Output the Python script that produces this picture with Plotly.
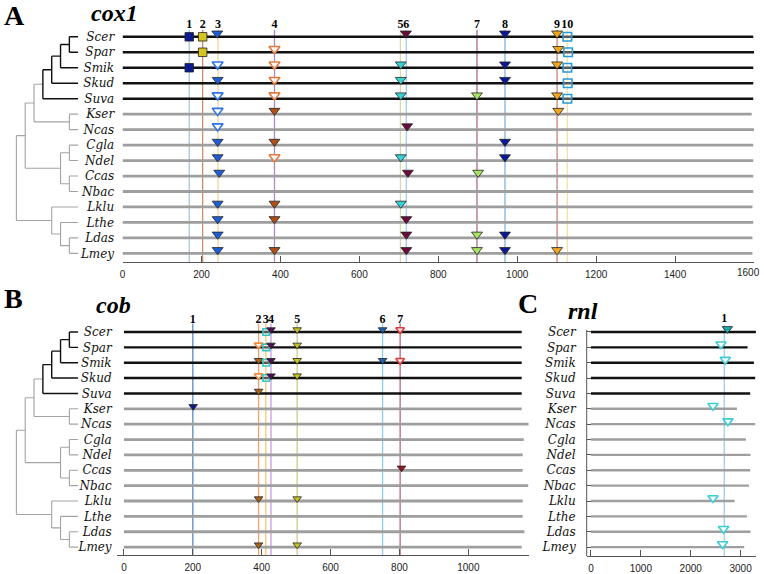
import plotly.graph_objects as go

W, H = 764, 574

# ---------------- data ----------------
species = ["Scer", "Spar", "Smik", "Skud", "Suva", "Kser", "Ncas", "Cgla",
           "Ndel", "Ccas", "Nbac", "Lklu", "Lthe", "Ldas", "Lmey"]
saccharomyces = ["Scer", "Spar", "Smik", "Skud", "Suva"]
tree = ((((((("Scer", "Spar"), "Smik"), "Skud"), "Suva"), ("Kser", "Ncas")),
         (("Cgla", "Ndel"), ("Ccas", "Nbac"))),
        ("Lklu", ("Lthe", ("Ldas", "Lmey"))))

# cox1
cox1_ticks = [0, 200, 400, 600, 800, 1000, 1200, 1400, 1600]
cox1_len = [1598, 1600, 1598, 1598, 1598, 1594, 1600, 1598, 1598, 1598, 1598, 1596, 1598, 1596, 1596]
cox1_site_pos = [169, 203, 242, 385, 704, 719, 898, 969, 1101, 1127]
cox1_site_line = ["#a3c8e4", "#cf8c6e", "#f4d496", "#a88cc4", "#d8dca4",
                  "#a6cfe4", "#ab6f80", "#7fb6de", "#c88474", "#f7e2a6"]
cox1_site_symbol = ["square", "square", "triangle-down", "triangle-down", "triangle-down",
                    "triangle-down", "triangle-down", "triangle-down", "triangle-down", "square"]
cox1_fill = ["#0b1a8f", "#d4c61c", "#1d5fd8", "#b34d16", "#33d3d6",
             "#6b0b3b", "#a6e263", "#0b1898", "#f2a61e", None]
cox1_open = [None, None, "#2f74e6", "#e27a42", "#33d3d6", None, None, None, None, "#2b9bd3"]
cox1_marks = [
    (1, "Scer", 169, "f"), (1, "Smik", 169, "f"),
    (2, "Scer", 203, "f"), (2, "Spar", 203, "f"),
    (3, "Scer", 240, "f"), (3, "Smik", 241, "o"), (3, "Skud", 241, "f"), (3, "Suva", 241, "o"),
    (3, "Kser", 241, "o"), (3, "Ncas", 241, "o"), (3, "Cgla", 241, "f"), (3, "Ndel", 241, "f"),
    (3, "Ccas", 245, "f"), (3, "Lklu", 241, "f"), (3, "Lthe", 241, "f"), (3, "Ldas", 241, "f"),
    (3, "Lmey", 241, "f"),
    (4, "Spar", 385, "o"), (4, "Smik", 385, "o"), (4, "Skud", 385, "o"), (4, "Suva", 385, "o"),
    (4, "Kser", 385, "f"), (4, "Cgla", 385, "f"), (4, "Ndel", 385, "o"), (4, "Lklu", 385, "f"),
    (4, "Lthe", 385, "f"), (4, "Lmey", 385, "f"),
    (5, "Smik", 705, "f"), (5, "Skud", 705, "f"), (5, "Suva", 705, "f"), (5, "Ndel", 705, "f"),
    (5, "Lklu", 705, "f"),
    (6, "Scer", 718, "f"), (6, "Ncas", 721, "f"), (6, "Ccas", 723, "f"), (6, "Lthe", 719, "f"),
    (6, "Ldas", 719, "f"), (6, "Lmey", 719, "f"),
    (7, "Suva", 898, "f"), (7, "Ccas", 901, "f"), (7, "Ldas", 898, "f"), (7, "Lmey", 898, "f"),
    (8, "Scer", 969, "f"), (8, "Smik", 969, "f"), (8, "Skud", 969, "f"), (8, "Cgla", 969, "f"),
    (8, "Ndel", 969, "f"), (8, "Ldas", 969, "f"), (8, "Lmey", 969, "f"),
    (9, "Scer", 1101, "f"), (9, "Spar", 1104, "f"), (9, "Smik", 1101, "f"), (9, "Suva", 1101, "f"),
    (9, "Kser", 1104, "f"), (9, "Lmey", 1101, "f"),
    (10, "Scer", 1127, "o"), (10, "Spar", 1129, "o"), (10, "Smik", 1127, "o"),
    (10, "Skud", 1128, "o"), (10, "Suva", 1127, "o"),
]

# cob
cob_ticks = [0, 200, 400, 600, 800, 1000]
cob_len = [1155, 1155, 1155, 1155, 1155, 1155, 1175, 1161, 1158, 1158, 1174, 1158, 1158, 1163, 1155]
cob_site_pos = [200, 391, 412, 427, 503, 751, 802]
cob_site_line = ["#5a8bc6", "#f4a171", "#f7c970", "#c99be2", "#cccb8c", "#8fcde8", "#b56a7a"]
cob_site_symbol = ["triangle-down", "triangle-down", "square", "triangle-down",
                   "triangle-down", "triangle-down", "triangle-down"]
cob_fill = ["#0e1b8c", "#ae611c", None, "#4f0f50", "#c9c31f", "#1e62b0", "#9a121c"]
cob_open = [None, "#f28c3f", "#36c4c4", None, None, None, "#e63a3c"]
cob_marks = [
    (1, "Kser", 201, "f"),
    (2, "Spar", 391, "o"), (2, "Smik", 391, "f"), (2, "Skud", 391, "o"), (2, "Suva", 391, "f"),
    (2, "Lklu", 391, "f"), (2, "Lmey", 391, "f"),
    (3, "Scer", 413, "o"), (3, "Spar", 413, "o"), (3, "Smik", 413, "o"), (3, "Skud", 413, "o"),
    (4, "Scer", 427, "f"), (4, "Spar", 427, "f"), (4, "Smik", 427, "f"), (4, "Skud", 427, "f"),
    (5, "Scer", 503, "f"), (5, "Spar", 503, "f"), (5, "Smik", 503, "f"), (5, "Skud", 503, "f"),
    (5, "Lklu", 503, "f"), (5, "Lmey", 503, "f"),
    (6, "Scer", 751, "f"), (6, "Smik", 751, "f"),
    (7, "Scer", 802, "o"), (7, "Smik", 802, "o"), (7, "Ccas", 806, "f"),
]

# rnl
rnl_ticks = [0, 1000, 2000, 3000]
rnl_len = [3307, 3140, 3267, 3293, 3193, 2927, 3293, 3107, 3200, 3193, 3167, 2880, 3127, 3200, 3073]
rnl_site_pos = [2673]
rnl_site_line = ["#a2cce2"]
rnl_site_symbol = ["triangle-down"]
rnl_fill = ["#1fa9ab"]
rnl_open = ["#3dcdd6"]
rnl_marks = [
    (1, "Scer", 2735, "f"), (1, "Spar", 2607, "o"), (1, "Smik", 2693, "o"), (1, "Kser", 2447, "o"),
    (1, "Ncas", 2747, "o"), (1, "Lklu", 2447, "o"), (1, "Ldas", 2660, "o"), (1, "Lmey", 2640, "o"),
]

# ---------------- helpers ----------------
idx = {s: i for i, s in enumerate(species)}
DARK = "#111111"
GRAY = "#a3a3a3"
SERIF = "Liberation Serif"
SANS = "Liberation Sans"
LABF = "DejaVu Serif"


def xdom(a, b):
    return [a / W, b / W]


def ydom(row0, step, i_top, i_bot):
    return [1 - (row0 + step * i_bot) / H, 1 - (row0 + step * i_top) / H]


fig = go.Figure()


def tree_segments(node):
    """Return (y, height, leaves, segments) of a cladogram."""
    if isinstance(node, str):
        return idx[node], 0, {node}, []
    res = [tree_segments(c) for c in node]
    h = max(r[1] for r in res) + 1
    ys = [r[0] for r in res]
    y = sum(ys) / len(ys)
    leaves = set().union(*[r[2] for r in res])
    segs = []
    dark = leaves <= set(saccharomyces)
    segs.append((h, min(ys), h, max(ys), dark))
    for (cy, ch, cl, cs) in res:
        segs.append((h, cy, ch, cy, dark and cl <= set(saccharomyces)))
        segs.extend(cs)
    return y, h, leaves, segs


_, _, _, SEGS = tree_segments(tree)


def add_tree(xa, ya):
    for dark in (False, True):
        xs, ys = [], []
        for (x0, y0, x1, y1, d) in SEGS:
            if d == dark:
                xs += [x0, x1, None]
                ys += [y0, y1, None]
        fig.add_trace(go.Scatter(x=xs, y=ys, mode="lines", xaxis=xa, yaxis=ya,
                                 line=dict(color=DARK if dark else GRAY, width=1.4 if dark else 1.1),
                                 hoverinfo="skip"))


def add_panel(xa, ya, lengths, site_pos, site_line, site_symbol, fill, open_, marks,
              label_i, top_i, bot_i, tri_size, sq_size, tri_off, lw_dark, lw_gray):
    # vertical site lines
    for k, (p, c) in enumerate(zip(site_pos, site_line)):
        fig.add_trace(go.Scatter(x=[p, p], y=[top_i, bot_i], mode="lines", xaxis=xa, yaxis=ya,
                                 line=dict(color=c, width=1.3), hoverinfo="skip"))
    # row lines
    for dark in (False, True):
        xs, ys = [], []
        for s, L in zip(species, lengths):
            if (s in saccharomyces) == dark:
                xs += [0, L, None]
                ys += [idx[s], idx[s], None]
        fig.add_trace(go.Scatter(x=xs, y=ys, mode="lines", xaxis=xa, yaxis=ya,
                                 line=dict(color=DARK if dark else "#9e9e9e",
                                           width=lw_dark if dark else lw_gray),
                                 hoverinfo="skip"))
    # site number labels
    fig.add_trace(go.Scatter(x=site_pos, y=[label_i] * len(site_pos),
                             text=[f"<b>{k + 1}</b>" for k in range(len(site_pos))],
                             mode="text", xaxis=xa, yaxis=ya, cliponaxis=False,
                             textfont=dict(family=SERIF, size=12, color="#000"),
                             hoverinfo="skip"))
    # markers
    for k in range(len(site_pos)):
        sym = site_symbol[k]
        for kind in ("f", "o"):
            pts = [(x, s) for (site, s, x, kd) in marks if site == k + 1 and kd == kind]
            if not pts:
                continue
            is_tri = sym.startswith("triangle")
            yv = [idx[s] - (tri_off if is_tri else 0) for (_, s) in pts]
            if kind == "f":
                mk = dict(symbol=sym, size=tri_size if is_tri else sq_size, color=fill[k],
                          line=dict(color="#222222", width=0.8))
            else:
                mk = dict(symbol=sym, size=tri_size if is_tri else sq_size,
                          color="rgba(255,255,255,0.85)" if is_tri else "rgba(255,255,255,0.3)",
                          line=dict(color=open_[k], width=1.6))
            fig.add_trace(go.Scatter(x=[x for (x, _) in pts], y=yv, mode="markers",
                                     xaxis=xa, yaxis=ya, marker=mk, cliponaxis=False,
                                     hoverinfo="skip"))


# ---------------- panels ----------------
A_row0, A_step, A_top, A_bot = 37.0, 15.55, -1.3, 14.55
B_row0, B_step, B_top, B_bot = 333.7, 15.45, -1.35, 14.52
C_row0, C_step, C_top, C_bot = 333.7, 15.45, -1.0, 14.58

add_tree("x4", "y")
add_panel("x", "y", cox1_len, cox1_site_pos, cox1_site_line, cox1_site_symbol, cox1_fill,
          cox1_open, cox1_marks, -0.74, -0.45, A_bot, 9.5, 8.5, 0.22, 2.4, 2.8)
add_tree("x5", "y2")
add_panel("x2", "y2", cob_len, cob_site_pos, cob_site_line, cob_site_symbol, cob_fill,
          cob_open, cob_marks, -0.8, -0.55, B_bot, 7.5, 6.5, 0.15, 2.4, 2.8)
add_panel("x3", "y3", rnl_len, rnl_site_pos, rnl_site_line, rnl_site_symbol, rnl_fill,
          rnl_open, rnl_marks, -0.84, -0.45, C_bot, 9, 7, 0.2, 2.4, 2.4)

tickfont = dict(family=SANS, size=10, color="#222")
ylabels = [f"<i>{s}</i>" for s in species]
common_x = dict(showgrid=False, zeroline=False, showline=True, linecolor="#555", linewidth=1,
                ticks="inside", ticklen=6, tickcolor="#555", tickfont=tickfont,
                ticklabelstandoff=3)
common_y = dict(showgrid=False, zeroline=False, tickmode="array", tickvals=list(range(15)),
                ticktext=ylabels, tickfont=dict(family=LABF, size=12, color="#111"))

# last cox1 tick label sits at the page edge: drawn as right-aligned text below
cox1_ticktext = [str(v) for v in cox1_ticks[:-1]] + [""]

fig.update_layout(
    width=W, height=H, margin=dict(l=0, r=0, t=0, b=0),
    paper_bgcolor="white", plot_bgcolor="rgba(0,0,0,0)", showlegend=False,
    xaxis=dict(domain=xdom(120, 754), range=[0, 1600], tickmode="array", tickvals=cox1_ticks,
               ticktext=cox1_ticktext, anchor="y", **common_x),
    yaxis=dict(domain=ydom(A_row0, A_step, A_top, A_bot), range=[A_bot, A_top], anchor="x",
               showline=False, ticks="outside", ticklen=5, tickcolor="rgba(0,0,0,0)", **common_y),
    xaxis4=dict(domain=xdom(9, 75.5), range=[7.5, 0], visible=False, anchor="y"),
    xaxis2=dict(domain=xdom(114.5, 528), range=[-20, 1176], tickvals=cob_ticks,
                anchor="y2", **common_x),
    yaxis2=dict(domain=ydom(B_row0, B_step, B_top, B_bot), range=[B_bot, B_top], anchor="x2",
                showline=False, ticks="outside", ticklen=2, tickcolor="rgba(0,0,0,0)", **common_y),
    xaxis5=dict(domain=xdom(9, 75.5), range=[7.5, 0], visible=False, anchor="y2"),
    xaxis3=dict(domain=xdom(586, 756), range=[-86, 3310], tickvals=rnl_ticks,
                anchor="y3", **common_x),
    yaxis3=dict(domain=ydom(C_row0, C_step, C_top, C_bot), range=[C_bot, C_top], anchor="x3",
                showline=False, ticks="inside", ticklen=4, tickcolor="#555",
                ticklabelstandoff=10, **common_y),
)

# left axis line of panel C (spans the rows only)
fig.add_shape(type="line", xref="x3 domain", x0=0, x1=0, yref="y3", y0=-0.13, y1=C_bot,
              line=dict(color="#555", width=1))


def ann(text, px, py, size, family=SERIF, xanchor="center", color="#000"):
    fig.add_annotation(text=text, x=px / W, y=1 - py / H, xref="paper", yref="paper",
                       showarrow=False, xanchor=xanchor, yanchor="middle",
                       font=dict(family=family, size=size, color=color))


ann("<b>A</b>", 12, 16, 28)
ann("<b>B</b>", 11, 300, 28)
ann("<b>C</b>", 527, 305, 28)
ann("<b><i>cox1</i></b>", 112, 13, 24)
ann("<b><i>cob</i></b>", 111, 307, 24)
ann("<b><i>rnl</i></b>", 582, 313, 24)
ann(str(cox1_ticks[-1]), 762, 274, 10, family=SANS, xanchor="right", color="#222")

fig.write_html(
    "out.html",
    config={"displayModeBar": False, "staticPlot": True},
    post_script="document.documentElement.style.overflow='hidden';"
                "document.body.style.margin='0px';document.body.style.padding='0px';"
                "document.body.style.overflow='hidden';",
)
